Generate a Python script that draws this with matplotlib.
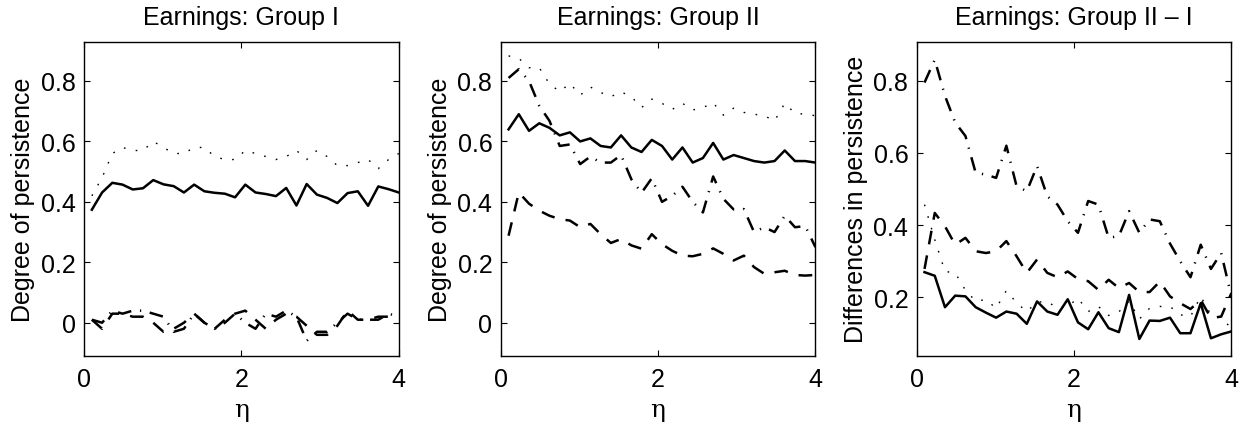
import numpy as np
import matplotlib
matplotlib.use('Agg')
import matplotlib.pyplot as plt

# persistence of earnings by eta, three panels, four lines each
eta = [0.10, 0.23, 0.36, 0.49, 0.62, 0.75, 0.88, 1.01, 1.14, 1.27, 1.40,
       1.53, 1.66, 1.79, 1.92, 2.05, 2.18, 2.31, 2.44, 2.57, 2.70, 2.83,
       2.96, 3.09, 3.22, 3.35, 3.48, 3.61, 3.74, 3.87, 4.00]

titles = ['Earnings: Group I', 'Earnings: Group II', 'Earnings: Group II \u2013 I']
ylabels = ['Degree of persistence', 'Degree of persistence', 'Differences in persistence']

# group I
g1_solid = [0.374, 0.431, 0.463, 0.457, 0.441, 0.445, 0.472, 0.458, 0.452, 0.431, 0.457,
            0.435, 0.430, 0.427, 0.415, 0.457, 0.431, 0.426, 0.419, 0.446, 0.388, 0.459,
            0.424, 0.413, 0.396, 0.429, 0.435, 0.387, 0.451, 0.442, 0.431]
g1_dotted = [0.42, 0.48, 0.56, 0.58, 0.57, 0.57, 0.60, 0.58, 0.56, 0.56, 0.58,
             0.58, 0.55, 0.54, 0.54, 0.57, 0.56, 0.55, 0.54, 0.55, 0.57, 0.54,
             0.57, 0.55, 0.52, 0.52, 0.53, 0.54, 0.51, 0.54, 0.56]
g1_dashed = [0.01, -0.02, 0.03, 0.03, 0.02, 0.02, 0.0, -0.03, -0.02, 0.0, 0.03,
             0.0, -0.02, 0.01, 0.03, 0.04, 0.01, -0.02, 0.01, 0.03, 0.02, -0.01,
             -0.04, -0.04, -0.01, 0.04, 0.01, 0.01, 0.02, 0.02, 0.02]
g1_dashdot = [0.01, 0.0, 0.04, 0.03, 0.04, 0.04, 0.03, 0.02, -0.03, -0.02, 0.03,
              0.0, -0.02, 0.0, 0.03, 0.0, -0.02, 0.03, 0.02, 0.04, 0.02, -0.06,
              -0.03, -0.03, 0.0, 0.03, 0.01, 0.01, 0.01, 0.03, 0.02]

# group II
g2_solid = [0.64, 0.69, 0.635, 0.66, 0.645, 0.62, 0.63, 0.60, 0.61, 0.585, 0.58,
            0.62, 0.58, 0.565, 0.605, 0.585, 0.54, 0.58, 0.53, 0.545, 0.595, 0.54,
            0.555, 0.545, 0.535, 0.53, 0.535, 0.57, 0.535, 0.535, 0.53]
g2_dotted = [0.883, 0.875, 0.844, 0.844, 0.79, 0.765, 0.792, 0.753, 0.78, 0.762, 0.748,
             0.764, 0.748, 0.712, 0.74, 0.726, 0.706, 0.726, 0.704, 0.712, 0.728, 0.687,
             0.71, 0.696, 0.69, 0.685, 0.668, 0.726, 0.693, 0.69, 0.685]
g2_dashed = [0.288, 0.431, 0.394, 0.371, 0.354, 0.343, 0.338, 0.316, 0.327, 0.293, 0.264,
             0.277, 0.256, 0.245, 0.293, 0.26, 0.238, 0.222, 0.22, 0.228, 0.246, 0.228,
             0.206, 0.222, 0.184, 0.162, 0.167, 0.172, 0.158, 0.156, 0.158]
g2_dashdot = [0.81, 0.839, 0.80, 0.718, 0.668, 0.585, 0.59, 0.525, 0.55, 0.53, 0.53,
              0.555, 0.475, 0.43, 0.478, 0.40, 0.42, 0.45, 0.40, 0.365, 0.484, 0.41,
              0.375, 0.376, 0.30, 0.316, 0.30, 0.354, 0.316, 0.32, 0.25]

# group II - I
d_solid = [0.27, 0.26, 0.173, 0.205, 0.203, 0.173, 0.158, 0.144, 0.161, 0.155, 0.127,
           0.189, 0.161, 0.152, 0.195, 0.131, 0.112, 0.159, 0.115, 0.104, 0.207, 0.085,
           0.136, 0.135, 0.144, 0.101, 0.101, 0.184, 0.087, 0.098, 0.106]
d_dotted = [0.457, 0.36, 0.272, 0.268, 0.22, 0.19, 0.194, 0.17, 0.219, 0.185, 0.161,
            0.187, 0.189, 0.17, 0.175, 0.198, 0.161, 0.175, 0.15, 0.16, 0.19, 0.14,
            0.17, 0.175, 0.175, 0.152, 0.147, 0.203, 0.152, 0.143, 0.115]
d_dashed = [0.279, 0.434, 0.397, 0.346, 0.365, 0.328, 0.323, 0.328, 0.356, 0.314, 0.268,
            0.305, 0.268, 0.256, 0.272, 0.251, 0.245, 0.221, 0.249, 0.226, 0.24, 0.215,
            0.215, 0.244, 0.203, 0.184, 0.168, 0.193, 0.143, 0.147, 0.212]
d_dashdot = [0.795, 0.858, 0.758, 0.684, 0.647, 0.545, 0.54, 0.531, 0.62, 0.508, 0.494,
             0.564, 0.48, 0.457, 0.411, 0.379, 0.467, 0.457, 0.365, 0.37, 0.439, 0.379,
             0.416, 0.411, 0.349, 0.30, 0.256, 0.346, 0.279, 0.323, 0.203]

panels = [(g1_solid, g1_dotted, g1_dashed, g1_dashdot),
          (g2_solid, g2_dotted, g2_dashed, g2_dashdot),
          (d_solid, d_dotted, d_dashed, d_dashdot)]
ylims = [(-0.11, 0.93), (-0.11, 0.93), (0.038, 0.908)]
yticks = [[0, 0.2, 0.4, 0.6, 0.8], [0, 0.2, 0.4, 0.6, 0.8], [0.2, 0.4, 0.6, 0.8]]
lefts = [0.0673, 0.4012, 0.7345]

plt.rcParams['font.family'] = ['Liberation Sans', 'DejaVu Sans']
FS = 18

fig = plt.figure(figsize=(12.48, 4.27), dpi=100)

for i in range(3):
    ax = fig.add_axes([lefts[i], 0.164, 0.2522, 0.736])
    solid, dotted, dashed, dashdot = panels[i]
    ax.plot(eta, solid, color='k', lw=1.8, linestyle='-')
    ax.plot(eta, dotted, color='k', lw=1.0, dashes=(1.2, 7.5))
    ax.plot(eta, dashed, color='k', lw=1.8, dashes=(5.5, 4.5))
    ax.plot(eta, dashdot, color='k', lw=1.8, dashes=(5.5, 3.5, 0.5, 3.5))

    ax.set_xlim(0, 4)
    ax.set_ylim(ylims[i])
    ax.set_xticks([0, 2, 4])
    ax.set_yticks(yticks[i])
    ax.set_yticklabels(['%g' % t for t in yticks[i]])
    ax.tick_params(direction='in', top=True, right=True, length=4, width=0.8,
                   labelsize=FS)
    ax.tick_params(axis='x', pad=8)
    ax.tick_params(axis='y', pad=6)
    for s in ax.spines.values():
        s.set_linewidth(1.0)
    ax.set_title(titles[i], fontsize=FS, pad=13)
    ax.set_ylabel(ylabels[i], fontsize=FS, labelpad=4)
    ax.set_xlabel('\u03b7', fontsize=FS, family='DejaVu Serif', labelpad=5)

fig.savefig('out.png', dpi=100)
